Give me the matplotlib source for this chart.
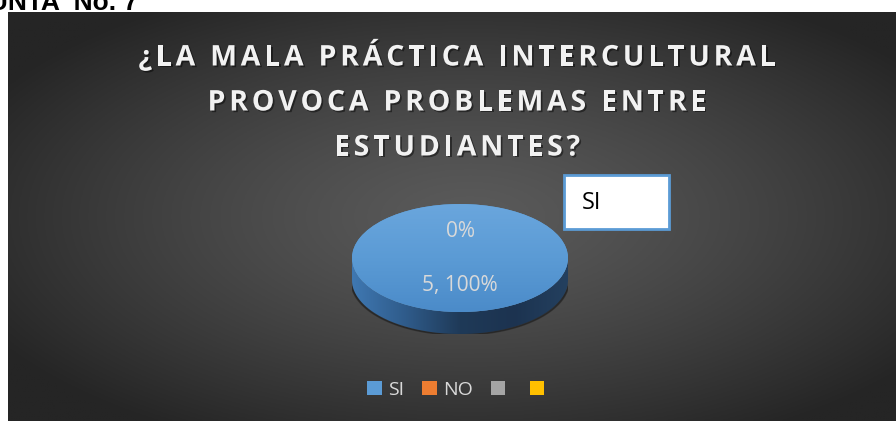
import numpy as np
import matplotlib
matplotlib.use("Agg")
import matplotlib.pyplot as plt
from matplotlib.colors import LinearSegmentedColormap
from matplotlib.path import Path
from matplotlib.patches import PathPatch, Rectangle
from matplotlib import patheffects as pe

# ---- data ----
categories = ["SI", "NO", "", ""]
values = [5, 0, 0, 0]
colors = ["#5b9bd5", "#ed7d31", "#a5a5a5", "#ffc000"]
title_lines = ["¿LA MALA PRÁCTICA INTERCULTURAL", "PROVOCA PROBLEMAS ENTRE", "ESTUDIANTES?"]
header_text = "PREGUNTA  No. 7"
box_text = "SI"

W, H = 896, 421
DPI = 100
fig = plt.figure(figsize=(W / DPI, H / DPI), dpi=DPI)
fig.patch.set_facecolor("white")

def fx(px):
    return px / W

def fy(py_top):
    return 1 - py_top / H

# ---- background panel with radial gradient ----
bx0, by0, bx1, by1 = 8, 12, 896, 421
bg = fig.add_axes([fx(bx0), fy(by1), fx(bx1 - bx0), (by1 - by0) / H])
bg.set_axis_off()
nx, ny = 450, 210
xx, yy = np.meshgrid(np.linspace(0, 1, nx), np.linspace(0, 1, ny))
cx, cy = 0.52, 0.50
r = np.sqrt(((xx - cx) / 0.62) ** 2 + ((yy - cy) / 0.62) ** 2)
r = np.clip(r, 0, 1)
c_center = np.array([0x5a, 0x5a, 0x5a]) / 255
c_edge = np.array([0x25, 0x25, 0x25]) / 255
img = c_center[None, None, :] + (c_edge - c_center)[None, None, :] * (r[..., None] ** 1.3)
bg.imshow(img, extent=[0, 1, 0, 1], origin="upper", aspect="auto")
bg.set_xlim(0, 1)
bg.set_ylim(0, 1)

# ---- header text (cropped at the top edge, as in the source) ----
fig.text(fx(138), 1 - 10 / H, header_text, ha="right", va="baseline",
         fontsize=19, fontweight="bold", family="Liberation Sans", color="black")

# ---- title with letter spacing ----
renderer = fig.canvas.get_renderer()
title_y = [58, 103, 148]

def spaced_text(s, xc_px, yc_px, size, spacing_px):
    texts = []
    widths = []
    probe = fig.text(0, 0, "aa", fontsize=size, fontweight="bold", family="Open Sans")
    w1 = probe.get_window_extent(renderer).width
    probe.set_text("a a")
    space_w = probe.get_window_extent(renderer).width - w1
    probe.remove()
    for ch in s:
        t = fig.text(0, 0, ch, fontsize=size, fontweight="bold", family="Open Sans",
                     color="#f2f2f2", ha="left", va="center")
        texts.append(t)
        widths.append(space_w if ch == " " else t.get_window_extent(renderer).width)
    total = sum(widths) + spacing_px * (len(s) - 1)
    x = xc_px - total / 2
    for t, w in zip(texts, widths):
        t.set_position((fx(x), fy(yc_px)))
        t.set_path_effects([pe.SimplePatchShadow(offset=(1.2, -1.2), shadow_rgbFace="black", alpha=0.45),
                            pe.Normal()])
        x += w + spacing_px

for line, yy_ in zip(title_lines, title_y):
    spaced_text(line, 457, yy_, 20.5, 3.8)

# ---- pie ----
pcx, pcy, rx, ry, depth = 460, 258, 108, 54, 22
d = depth / ry
pax = fig.add_axes([fx(pcx - rx), fy(pcy + ry + depth), fx(2 * rx), (2 * ry + depth) / H])
wedges, _ = pax.pie(values, colors=colors, startangle=90, counterclock=False,
                    radius=1, center=(0, 0), wedgeprops=dict(linewidth=0))
pax.set_aspect("auto")
pax.set_axis_off()

# side of the 3D pie (horizontal gradient clipped to the side band)
t = np.linspace(np.pi, 2 * np.pi, 200)
lower = np.column_stack([np.cos(t), np.sin(t) - d])
upper = np.column_stack([np.cos(t[::-1]), np.sin(t[::-1])])
side_path = Path(np.vstack([lower, upper, lower[:1]]))
side_cmap = LinearSegmentedColormap.from_list("side", ["#3f78b2", "#2f5b8a", "#1f3a58", "#1c3350", "#24405f"])
grad = np.linspace(0, 1, 256)[None, :]
im_side = pax.imshow(grad, extent=[-1, 1, -1 - d, 0.2], cmap=side_cmap, aspect="auto", zorder=0.5)
clip_patch = PathPatch(side_path, transform=pax.transData, facecolor="none", edgecolor="none")
pax.add_patch(clip_patch)
im_side.set_clip_path(clip_patch)
shadow_pts = np.column_stack([np.cos(t) * 1.01, np.sin(t) - d - 0.02])
pax.fill(np.r_[shadow_pts[:, 0], shadow_pts[::-1, 0]],
         np.r_[shadow_pts[:, 1], shadow_pts[::-1, 1] + 0.05], color="#1a1a1a", alpha=0.5, zorder=0.4)

# top face gradient overlay
top_cmap = LinearSegmentedColormap.from_list("top", ["#4b8bc9", "#5b9bd5", "#6aa6dd"])
for w in wedges:
    w.set_zorder(1)
top_grad = np.linspace(0, 1, 256)[:, None]
im_top = pax.imshow(top_grad, extent=[-1, 1, -1, 1], cmap=top_cmap, origin="lower", aspect="auto", zorder=1.5)
im_top.set_clip_path(wedges[0])
pax.set_xlim(-1, 1)
pax.set_ylim(-1 - d, 1)

# data labels
total = sum(values)
label_color = "#d9d9d9"
for i, (w, v) in enumerate(zip(wedges, values)):
    if i > 1:
        continue
    ang = np.deg2rad((w.theta1 + w.theta2) / 2)
    rr = 0.5
    lx, ly = rr * np.cos(ang), rr * np.sin(ang)
    pct = f"{v / total * 100:.0f}%"
    txt = f"{v}, {pct}" if v > 0 else pct
    pax.text(lx, ly, txt, ha="center", va="center", fontsize=15, color=label_color,
             family="Open Sans", zorder=3)

# ---- white "SI" box ----
fig.patches.append(Rectangle((fx(564), fy(229)), fx(105), 54 / H, transform=fig.transFigure,
                             facecolor="white", edgecolor="#5b9bd5", linewidth=2, zorder=2))
box_t = fig.text(fx(582), fy(203), box_text, ha="left", va="center", fontsize=17, color="black",
                 family="Open Sans")
box_t.set_zorder(3)

# ---- legend ----
leg = pax.legend(wedges, categories, loc="center", bbox_to_anchor=(fx(459), fy(390)),
                 bbox_transform=fig.transFigure, ncol=4, frameon=False,
                 handlelength=0.75, handleheight=0.75, handletextpad=0.35, columnspacing=0.9,
                 prop={"family": "Open Sans", "size": 14})
for txt in leg.get_texts():
    txt.set_color(label_color)

fig.savefig("out.png", dpi=DPI, facecolor=fig.get_facecolor())
